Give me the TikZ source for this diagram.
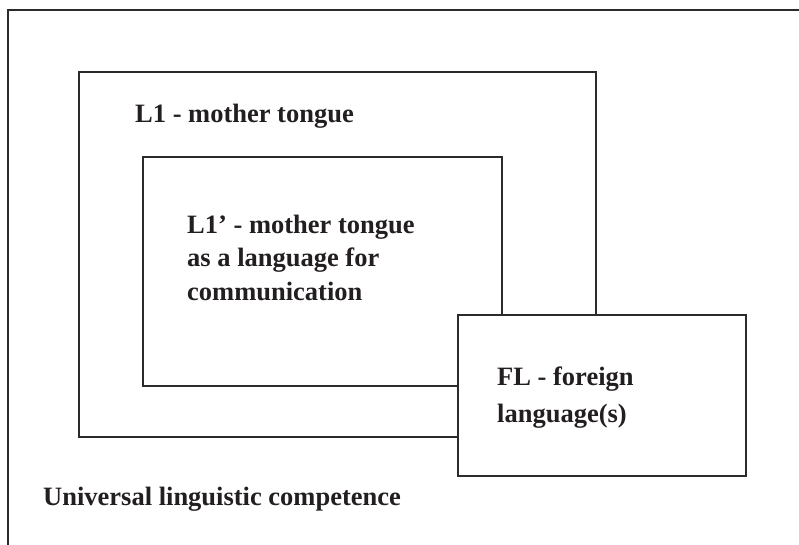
\documentclass[tikz,border=0pt]{standalone}
\usepackage{fontspec}
\setmainfont{Liberation Serif}
\definecolor{ink}{HTML}{231F20}
\definecolor{edge}{HTML}{2B2B2B}
\begin{document}
\begin{tikzpicture}[x=1pt,y=-1pt,
  box/.style={draw=edge, line width=1.5pt, fill=white, inner sep=0pt, anchor=north west},
  lbl/.style={text=ink, inner sep=0pt, anchor=base west, align=left, font=\bfseries\fontsize{26.5}{33.5}\selectfont}]
\useasboundingbox (0,0) rectangle (799,544);
\coordinate (ob) at (8,560);
\coordinate (or) at (815,10);
\draw[draw=edge, line width=1.5pt] (ob) |- (or);
\node[box, minimum width=517pt, minimum height=365pt] (l1) at (78,71) {};
\node[box, minimum width=359pt, minimum height=229pt] (l1p) at (142,156) {};
\node[box, minimum width=288pt, minimum height=161pt] (fl) at (457,314) {};
\node[lbl] (tl1) at (135,122) {L1 - mother tongue};
\node[lbl] (tl1p) at (187,300) {L1’ - mother tongue\\as a language for\\communication};
\node[lbl, font=\bfseries\fontsize{26.5}{36.5}\selectfont] (tfl) at (497,422) {FL - foreign\\language(s)};
\node[lbl] (tu) at (43,505) {Universal linguistic competence};
\end{tikzpicture}
\end{document}
